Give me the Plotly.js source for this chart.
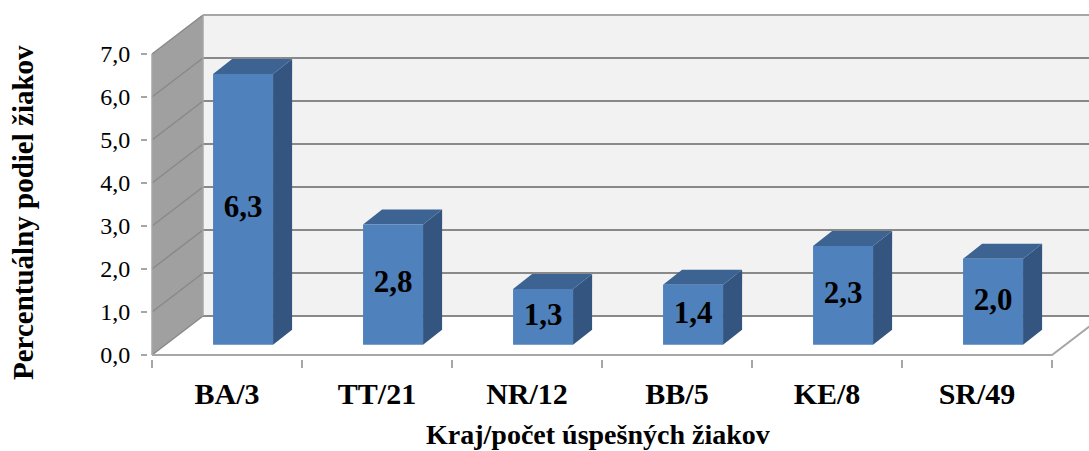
<!DOCTYPE html>
<html>
<head>
<meta charset="utf-8">
<script src="https://cdn.plot.ly/plotly-3.0.1.min.js"></script>
<style>html,body{margin:0;padding:0;background:#fff;}#chart{width:1089px;height:451px;}</style>
</head>
<body>
<div id="chart"></div>
<script>
// ---- data ----
const categories = ['BA/3', 'TT/21', 'NR/12', 'BB/5', 'KE/8', 'SR/49'];
const values = [6.3, 2.8, 1.3, 1.4, 2.3, 2.0];
const yTicks = [0, 1, 2, 3, 4, 5, 6, 7];
const yTickLabels = ['0,0', '1,0', '2,0', '3,0', '4,0', '5,0', '6,0', '7,0'];
const xTitle = 'Kraj/počet úspešných žiakov';
const yTitle = 'Percentuálny podiel žiakov';

// ---- 3D look (style) ----
const DX = 0.34, DY = 0.907;       // full depth offset in axis units
const yMax = 7;
const barL = -0.181, barR = 0.219; // front face relative to category index (before depth shift)
const bfx = 0.088, bfy = 0.236;    // front face depth offset
const bdx = 0.127, bdy = 0.349;    // bar depth
const farX = 6.2;
const gridCol = '#898989';
const FONT = 'Liberation Serif, Times New Roman, serif';

const traces = [];
function poly(xs, ys, fill) {
  traces.push({type: 'scatter', mode: 'lines', x: xs.concat([xs[0]]), y: ys.concat([ys[0]]),
    fill: 'toself', fillcolor: fill, line: {width: 0, color: fill}, hoverinfo: 'skip', showlegend: false});
}
function seg(xs, ys, col, w) {
  traces.push({type: 'scatter', mode: 'lines', x: xs, y: ys, line: {color: col, width: w},
    hoverinfo: 'skip', showlegend: false});
}

// back wall
const x0 = -0.5;
poly([x0 + DX, farX, farX, x0 + DX], [DY, DY, yMax + DY, yMax + DY], '#F2F2F2');
// side wall
poly([x0, x0, x0 + DX, x0 + DX], [0, yMax, yMax + DY, DY], '#A0A0A0');
// grid lines on back wall and side wall
yTicks.forEach(v => {
  seg([x0 + DX, farX], [v + DY, v + DY], gridCol, 2);
  seg([x0, x0 + DX], [v, v + DY], gridCol, 1.5);
});
// wall frame
seg([x0 + DX, x0 + DX], [DY, yMax + DY], '#A6A6A6', 1.5);
seg([x0 + DX, farX], [yMax + DY, yMax + DY], '#A6A6A6', 2);
seg([x0, x0], [0, yMax], '#A6A6A6', 1.5);
// floor edges
const xEnd = categories.length - 0.5;
seg([x0, xEnd, xEnd + DX], [0, 0, DY], '#A6A6A6', 2);

// bars
values.forEach((v, i) => {
  const fl = i + barL + bfx, fr = i + barR + bfx, b = bfy;
  // right side
  poly([fr, fr + bdx, fr + bdx, fr], [b, b + bdy, b + v + bdy, b + v], '#34557F');
  // top
  poly([fl, fr, fr + bdx, fl + bdx], [b + v, b + v, b + v + bdy, b + v + bdy], '#3C6392');
  // front
  poly([fl, fr, fr, fl], [b, b, b + v, b + v], '#4F81BD');
});
// data labels
traces.push({type: 'scatter', mode: 'text', x: values.map((v, i) => i + (barL + barR) / 2 + bfx),
  y: values.map(v => bfy + v / 2), text: values.map(v => v.toFixed(1).replace('.', ',')),
  textfont: {family: FONT, size: 31, color: '#000', weight: 'bold'}, textposition: 'middle center',
  hoverinfo: 'skip', showlegend: false, cliponaxis: false});
// dummy for second x axis (boundary ticks)
traces.push({type: 'scatter', x: [0], y: [0], xaxis: 'x2', mode: 'markers', marker: {opacity: 0}, hoverinfo: 'skip', showlegend: false});

const padPx = 4;
const xStart = x0 - padPx / 150;
const xStop = xStart + (1089 - 148) / 150;
const layout = {
  width: 1089, height: 451,
  margin: {l: 148, r: 0, t: 12, b: 92},
  paper_bgcolor: '#fff', plot_bgcolor: '#fff',
  showlegend: false,
  xaxis: {range: [xStart, xStop], tickvals: categories.map((c, i) => i), ticktext: categories.map(c => '<b>' + c + '</b>'),
    showgrid: false, zeroline: false, showline: false, ticks: '', ticklabelstandoff: 14,
    tickfont: {family: FONT, size: 30, color: '#000'}, fixedrange: true},
  xaxis2: {overlaying: 'x', side: 'bottom', range: [xStart, xStop], tickvals: categories.map((c, i) => i - 0.5).concat([xEnd]),
    showticklabels: false, ticks: 'outside', ticklen: 8, tickwidth: 2, tickcolor: '#A6A6A6',
    showgrid: false, zeroline: false, showline: false, fixedrange: true},
  yaxis: {range: [-padPx / 43, 7.977], tickvals: yTicks, ticktext: yTickLabels,
    showgrid: false, zeroline: false, showline: false, ticks: 'outside', ticklen: 6, tickwidth: 2, tickcolor: '#A6A6A6',
    tickfont: {family: FONT, size: 24, color: '#000'}, ticklabelstandoff: 6, fixedrange: true},
  annotations: [
    {text: '<b>' + xTitle + '</b>', xref: 'paper', yref: 'paper', x: (598 - 148) / 941, y: -(434 - 359) / 347,
      xanchor: 'center', yanchor: 'middle', showarrow: false, borderpad: 0, font: {family: FONT, size: 28, color: '#000'}},
    {text: '<b>' + yTitle + '</b>', xref: 'paper', yref: 'paper', x: (23 - 148) / 941, y: (359 - 213) / 347,
      xanchor: 'center', yanchor: 'middle', textangle: -90, showarrow: false, borderpad: 0, font: {family: FONT, size: 29, color: '#000'}}
  ]
};
Plotly.newPlot('chart', traces, layout, {displayModeBar: false, staticPlot: true});
</script>
</body>
</html>
